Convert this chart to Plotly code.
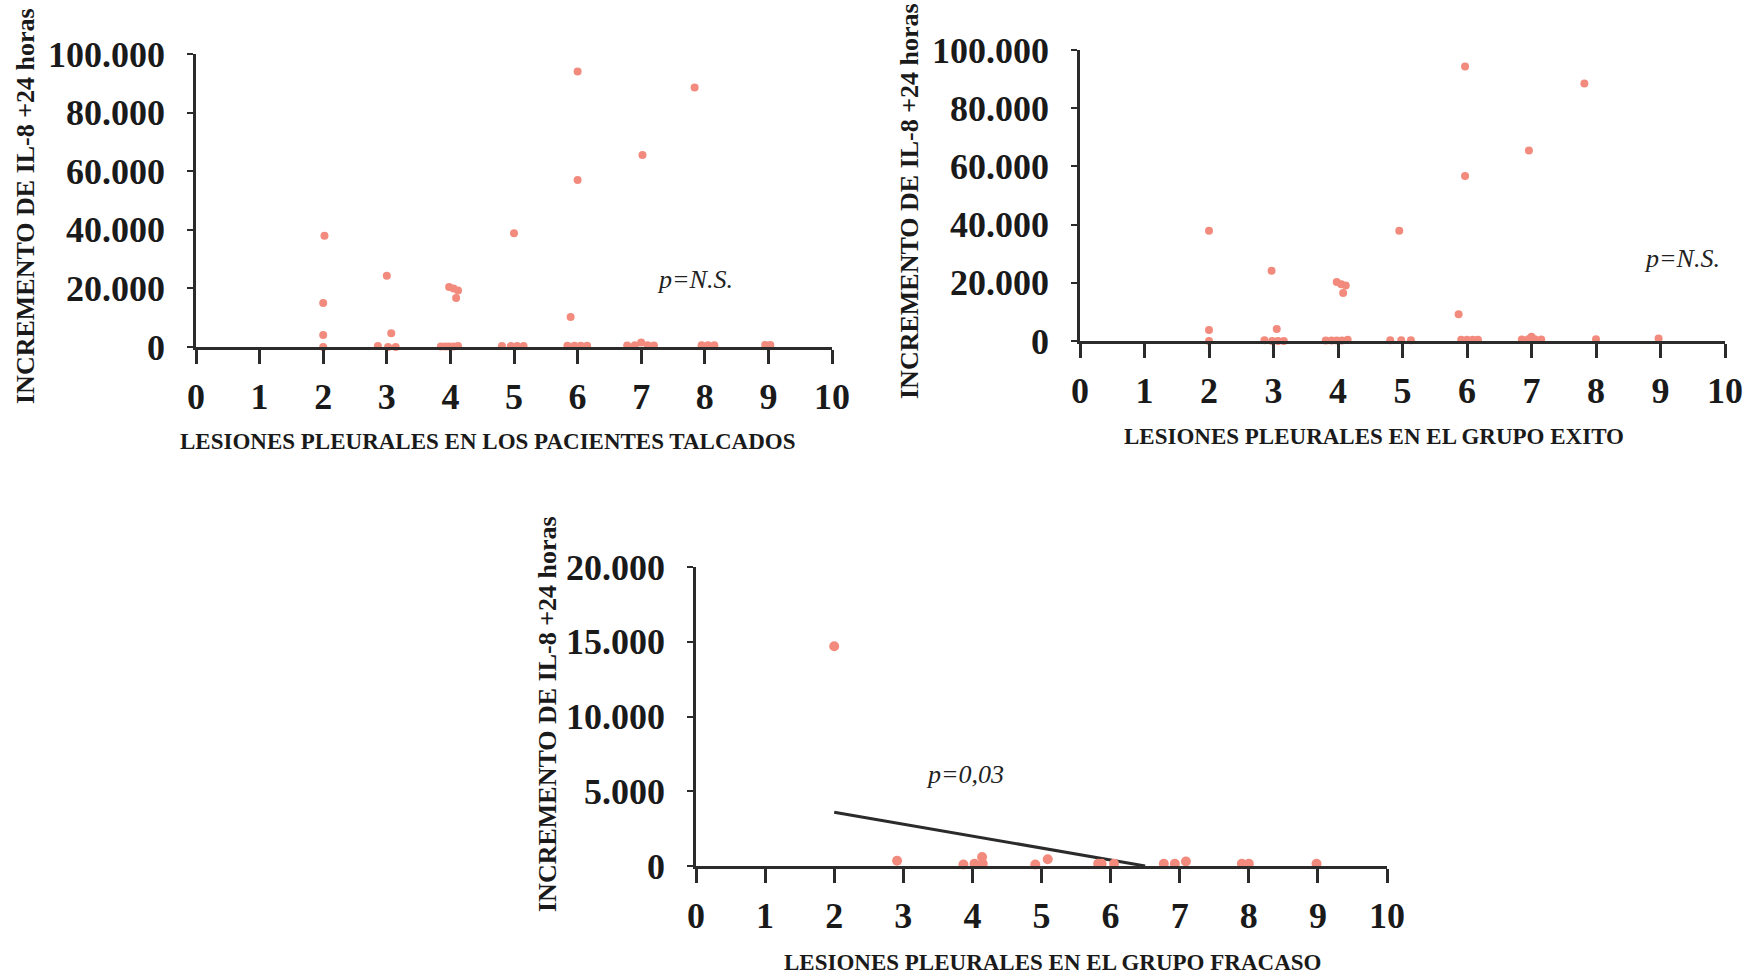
import plotly.graph_objects as go

# --- Data -----------------------------------------------------------------
# All talc-treated patients: pleural lesions vs IL-8 increase at +24 h
talc_x = [2.02, 2.0, 2.0, 3.0, 3.07, 3.98, 4.05, 4.12, 4.09, 5.0, 6.0, 6.0, 5.89, 7.02, 7.84,
          2.0, 2.86, 3.02, 3.14, 3.85, 3.92, 3.98, 4.05, 4.12, 4.81, 4.95, 5.05, 5.15,
          5.84, 5.95, 6.05, 6.15, 6.78, 6.9, 7.0, 7.1, 7.2, 7.95, 8.05, 8.15, 8.95, 9.03]
talc_y = [38000, 15000, 4100, 24300, 4700, 20500, 20000, 19300, 16700, 38800, 94000, 57000, 10200, 65500, 88600,
          0, 300, 0, 0, 200, 200, 200, 200, 300, 300, 300, 300, 300,
          400, 400, 400, 400, 500, 600, 1500, 600, 500, 600, 600, 600, 700, 700]

# Success group
exito_x = [2.0, 2.0, 2.97, 3.05, 3.98, 4.05, 4.12, 4.08, 4.95, 5.97, 5.97, 5.87, 6.96, 7.82,
           2.0, 2.86, 2.98, 3.07, 3.16, 3.81, 3.9, 3.98, 4.06, 4.15, 4.81, 4.98, 5.13,
           5.91, 6.0, 6.09, 6.17, 6.85, 6.95, 7.0, 7.05, 7.15, 8.0, 8.97]
exito_y = [37900, 3800, 24100, 4100, 20300, 19500, 19100, 16500, 37900, 94300, 56700, 9200, 65500, 88500,
           0, 300, 0, 0, 0, 200, 200, 200, 200, 400, 300, 300, 300,
           400, 400, 400, 400, 500, 600, 1500, 600, 500, 600, 900]

# Failure group
fracaso_x = [2.0, 2.91, 3.87, 4.03, 4.14, 4.15, 4.91, 5.09, 5.82, 5.87, 6.05,
             6.77, 6.93, 7.09, 7.9, 8.0, 8.98]
fracaso_y = [14700, 350, 100, 150, 600, 150, 100, 450, 150, 150, 150,
             150, 150, 300, 150, 150, 150]

# Linear fit for the failure group (drawn down to where it meets zero)
fracaso_fit_intercept = 5200
fracaso_fit_slope = -800
fracaso_fit_x = [2.0, 6.5]

x_ticks = list(range(0, 11))
y_ticks_all = [0, 20000, 40000, 60000, 80000, 100000]
y_labels_all = ["0", "20.000", "40.000", "60.000", "80.000", "100.000"]
y_ticks_fracaso = [0, 5000, 10000, 15000, 20000]
y_labels_fracaso = ["0", "5.000", "10.000", "15.000", "20.000"]

p_labels = ["p=N.S.", "p=N.S.", "p=0,03"]
x_titles = ["LESIONES PLEURALES EN LOS PACIENTES TALCADOS",
            "LESIONES PLEURALES EN EL GRUPO EXITO",
            "LESIONES PLEURALES EN EL GRUPO FRACASO"]
y_title = "INCREMENTO DE IL-8 +24 horas"

# --- Style ----------------------------------------------------------------
W, H = 1749, 976
SERIF = "Liberation Serif, Times New Roman, serif"
INK = "#2b2b2b"
DOT = "#f28b7d"

fig = go.Figure()

def dots(x, y, xa, ya, size):
    fig.add_trace(go.Scatter(
        x=x, y=y, xaxis=xa, yaxis=ya, mode="markers",
        marker=dict(color=DOT, size=size, line=dict(width=0)),
        cliponaxis=False, showlegend=False, hoverinfo="skip"))

dots(talc_x, talc_y, "x", "y", 8)
dots(exito_x, exito_y, "x2", "y2", 8)

fit_y = [fracaso_fit_intercept + fracaso_fit_slope * v for v in fracaso_fit_x]
fig.add_trace(go.Scatter(
    x=fracaso_fit_x, y=fit_y, xaxis="x3", yaxis="y3", mode="lines",
    line=dict(color=INK, width=3), showlegend=False, hoverinfo="skip"))
dots(fracaso_x, fracaso_y, "x3", "y3", 10)

tick_font = dict(family=SERIF, size=36, color="#1a1a1a", weight="bold")

def xaxis_cfg(domain, anchor):
    return dict(domain=domain, anchor=anchor, range=[0, 10], tickvals=x_ticks,
                ticktext=[str(t) for t in x_ticks], showline=True, linecolor=INK,
                linewidth=2.5, ticks="outside", ticklen=14, tickwidth=2.5, tickcolor=INK,
                showgrid=False, zeroline=False, tickfont=tick_font, ticklabelstandoff=2,
                automargin=False)

def yaxis_cfg(domain, anchor, rng, vals, labels):
    return dict(domain=domain, anchor=anchor, range=rng, tickvals=vals, ticktext=labels,
                showline=True, linecolor=INK, linewidth=2.5, ticks="outside", ticklen=6,
                tickwidth=2, tickcolor=INK, showgrid=False, zeroline=False,
                tickfont=tick_font, ticklabelstandoff=15, automargin=False)

dom1x = [196 / W, 832 / W]
dom1y = [1 - 347 / H, 1 - 54 / H]
dom2x = [1080 / W, 1725 / W]
dom2y = [1 - 341 / H, 1 - 50 / H]
dom3x = [696 / W, 1387 / W]
dom3y = [1 - 866 / H, 1 - 567 / H]

fig.update_layout(
    width=W, height=H, margin=dict(l=0, r=0, t=0, b=0, autoexpand=False),
    paper_bgcolor="white", plot_bgcolor="white",
    xaxis=xaxis_cfg(dom1x, "y"),
    yaxis=yaxis_cfg(dom1y, "x", [0, 100000], y_ticks_all, y_labels_all),
    xaxis2=xaxis_cfg(dom2x, "y2"),
    yaxis2=yaxis_cfg(dom2y, "x2", [0, 100000], y_ticks_all, y_labels_all),
    xaxis3=xaxis_cfg(dom3x, "y3"),
    yaxis3=yaxis_cfg(dom3y, "x3", [0, 20000], y_ticks_fracaso, y_labels_fracaso),
)

title_font = dict(family=SERIF, size=23, color="#1a1a1a", weight="bold")
ytitle_font = dict(family=SERIF, size=26, color="#1a1a1a", weight="bold")
p_font = dict(family=SERIF, size=26, color="#222222", style="italic")

annotations = []
# x-axis titles
for text, cx, cy in zip(x_titles, [487, 1374, 1052], [441, 436, 962]):
    annotations.append(dict(text=text, xref="paper", yref="paper", x=cx / W, y=1 - cy / H,
                            xanchor="center", yanchor="middle", showarrow=False, font=title_font))
# y-axis titles
for cx, cy in zip([25, 909, 547], [206, 201, 714]):
    annotations.append(dict(text=y_title, xref="paper", yref="paper", x=cx / W, y=1 - cy / H,
                            xanchor="center", yanchor="middle", textangle=-90,
                            showarrow=False, font=ytitle_font))
# significance labels
for text, xr, yr, px, py in zip(p_labels, ["x", "x2", "x3"], ["y", "y2", "y3"],
                                [7.84, 9.34, 3.9], [23200, 28300, 6100]):
    annotations.append(dict(text=text, xref=xr, yref=yr, x=px, y=py, xanchor="center",
                            yanchor="middle", showarrow=False, font=p_font))

fig.update_layout(annotations=annotations)

fig.write_html("out.html")
